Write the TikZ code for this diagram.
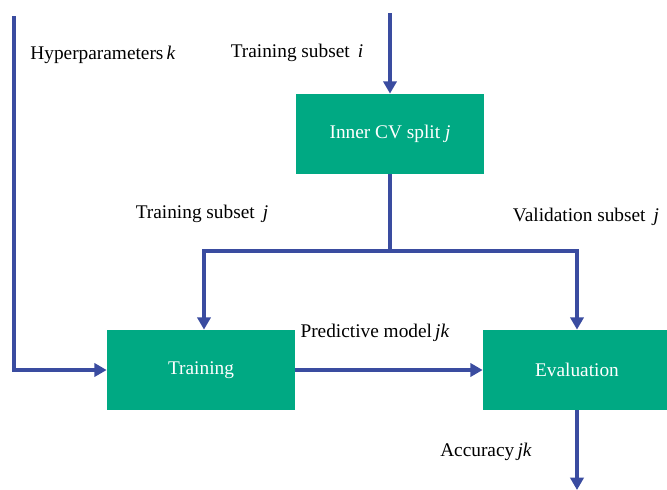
\documentclass[tikz,border=0pt]{standalone}
\usepackage{fontspec}
\setmainfont{Liberation Serif}
\usetikzlibrary{arrows.meta}
\definecolor{boxgreen}{HTML}{00A983}
\definecolor{lineblue}{HTML}{3A4CA0}
\begin{document}
\begin{tikzpicture}[x = 0.02cm, y = -0.02cm, font = \fontsize{11}{13}\selectfont,
	block/.style = {fill = boxgreen, text = white, minimum width = 3.76cm, minimum height = 1.6cm, inner sep = 0pt},
	wire/.style = {draw = lineblue, line width = 2pt},
	flow/.style = {wire, -{Triangle[width = 7.5pt, length = 7pt]}}]
\useasboundingbox (0,0) rectangle (667,490);
\node[block] (cv) at (390,134) {Inner CV split \textit{j}};
\node[block] (train) at (201,370) {Training};
\node[block] (eval) at (577,370) {Evaluation};
\coordinate (hyper) at (14,16);
\coordinate (input) at (390,13);
\coordinate (split) at (390,251);
\coordinate (output) at (577,490);
\draw[flow] (hyper) |- (train.west);
\draw[flow] (input) -- (cv.north);
\draw[wire] (cv.south) -- (split);
\draw[flow] (split) -| ([xshift = 0.06cm]train.north);
\draw[flow] (split) -| (eval.north);
\draw[flow] (train.east) -- (eval.west);
\draw[flow] (eval.south) -- (output);
\node at (103,55) {Hyperparameters\,\textit{k}};
\node at (297,53) {Training subset \,\textit{i}};
\node at (202,214) {Training subset \,\textit{j}};
\node at (586,217) {Validation subset \,\textit{j}};
\node at (375,333) {Predictive model\,\textit{jk}};
\node at (486,452) {Accuracy\,\textit{jk}};
\end{tikzpicture}
\end{document}
